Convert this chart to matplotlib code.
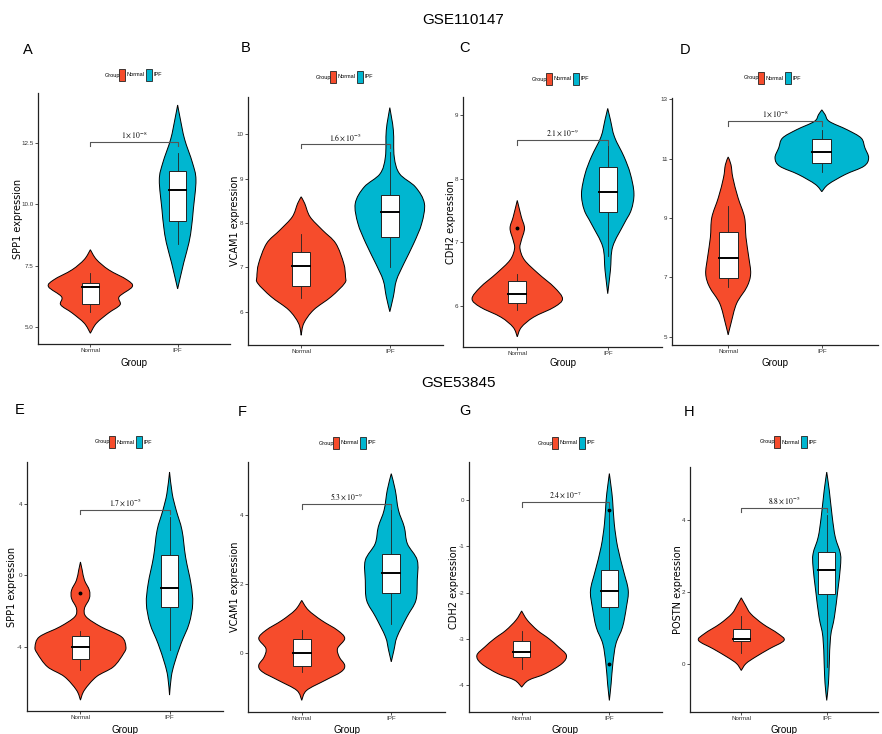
import numpy as np
import matplotlib
matplotlib.use('Agg')
import matplotlib.pyplot as plt
from matplotlib.path import Path
from matplotlib.patches import PathPatch, Rectangle

plt.rcParams['mathtext.fontset'] = 'stix'

W, H = 882, 734
NORMAL_COLOR = '#F64C2C'
IPF_COLOR = '#00B6D0'
NARROW = ['Liberation Sans Narrow', 'Liberation Sans', 'DejaVu Sans']
SANS = ['Liberation Sans', 'DejaVu Sans']

GROUPS = ['Normal', 'IPF']

# ---- GSE110147 ----
# A: SPP1
A_norm_y = [4.74, 5.15, 5.57, 5.9, 6.23, 6.64, 6.92, 7.33, 7.75, 8.15]
A_norm_w = [0, 0.07, 0.21, 0.34, 0.33, 0.48, 0.42, 0.21, 0.07, 0]
A_norm_box = [5.6, 5.94, 6.64, 6.8, 7.2]
A_ipf_y = [6.55, 7.62, 8.44, 9.1, 9.8, 11.0, 11.7, 12.66, 13.5, 14.06]
A_ipf_w = [0, 0.07, 0.13, 0.16, 0.18, 0.21, 0.17, 0.08, 0.03, 0]
A_ipf_box = [8.4, 9.34, 10.6, 11.38, 12.1]

# B: VCAM1
B_norm_y = [5.47, 5.74, 6.04, 6.34, 6.64, 6.79, 7.09, 7.54, 7.84, 8.14, 8.44, 8.59]
B_norm_w = [0, 0.03, 0.14, 0.34, 0.49, 0.50, 0.48, 0.39, 0.24, 0.10, 0.04, 0]
B_norm_box = [6.3, 6.58, 7.04, 7.34, 7.75]
B_ipf_y = [6.0, 6.34, 6.71, 7.09, 7.54, 7.99, 8.44, 8.81, 9.11, 9.49, 10.09, 10.6]
B_ipf_w = [0, 0.04, 0.075, 0.16, 0.27, 0.36, 0.39, 0.29, 0.11, 0.05, 0.04, 0]
B_ipf_box = [7.0, 7.69, 8.24, 8.62, 9.6]

# C: CDH2
C_norm_y = [5.51, 5.66, 5.82, 5.98, 6.11, 6.29, 6.51, 6.72, 6.9, 7.03, 7.22, 7.4, 7.66]
C_norm_w = [0, 0.045, 0.18, 0.41, 0.50, 0.41, 0.23, 0.08, 0.03, 0.045, 0.08, 0.045, 0]
C_norm_box = [5.94, 6.04, 6.18, 6.39, 6.5]
C_norm_out = [7.23]
C_ipf_y = [6.19, 6.56, 6.93, 7.29, 7.51, 7.77, 8.08, 8.35, 8.66, 8.93, 9.11]
C_ipf_w = [0, 0.03, 0.055, 0.18, 0.26, 0.29, 0.25, 0.18, 0.075, 0.03, 0]
C_ipf_box = [6.79, 7.47, 7.8, 8.18, 8.61]

# D: POSTN
D_norm_y = [5.06, 5.45, 6.12, 6.68, 7.12, 7.68, 8.35, 9.02, 9.69, 10.36, 10.8, 11.06]
D_norm_w = [0, 0.03, 0.09, 0.2, 0.24, 0.22, 0.19, 0.175, 0.105, 0.05, 0.03, 0]
D_norm_box = [6.68, 6.97, 7.66, 8.53, 9.41]
D_ipf_y = [9.89, 10.14, 10.47, 10.75, 11.03, 11.37, 11.7, 11.98, 12.26, 12.49, 12.65]
D_ipf_w = [0, 0.07, 0.25, 0.45, 0.5, 0.46, 0.42, 0.27, 0.08, 0.035, 0]
D_ipf_box = [10.56, 10.85, 11.23, 11.68, 11.98]

# ---- GSE53845 ----
# E: SPP1
E_norm_y = [-6.98, -6.42, -5.67, -5.12, -4.37, -4.0, -3.44, -2.88, -2.33, -1.86,
            -1.3, -0.84, -0.28, 0.28, 0.74]
E_norm_w = [0, 0.045, 0.18, 0.37, 0.485, 0.51, 0.46, 0.23, 0.065, 0.045,
            0.10, 0.10, 0.045, 0.02, 0]
E_norm_box = [-5.27, -4.67, -4.0, -3.39, -3.1]
E_norm_out = [-0.97]
E_ipf_y = [-6.7, -5.67, -4.93, -3.81, -2.7, -1.58, -0.47, 1.02, 2.51, 3.63, 4.56, 5.77]
E_ipf_w = [0, 0.02, 0.055, 0.13, 0.22, 0.26, 0.24, 0.18, 0.14, 0.075, 0.03, 0]
E_ipf_box = [-4.19, -1.8, -0.69, 1.15, 3.26]

# F: VCAM1
F_norm_y = [-1.39, -1.1, -0.81, -0.56, -0.37, -0.13, 0.12, 0.41, 0.65, 0.94, 1.24, 1.52]
F_norm_w = [0, 0.055, 0.26, 0.44, 0.48, 0.42, 0.40, 0.48, 0.40, 0.22, 0.073, 0]
F_norm_box = [-0.56, -0.38, 0.0, 0.41, 0.67]
F_ipf_y = [-0.27, 0.07, 0.46, 1.04, 1.52, 2.1, 2.69, 3.17, 3.66, 4.15, 4.73, 5.21]
F_ipf_w = [0, 0.03, 0.065, 0.175, 0.275, 0.29, 0.29, 0.18, 0.145, 0.08, 0.045, 0]
F_ipf_box = [0.84, 1.74, 2.33, 2.86, 4.34]

# G: CDH2
G_norm_y = [-4.05, -3.9, -3.76, -3.54, -3.36, -3.18, -3.0, -2.82, -2.6, -2.4]
G_norm_w = [0, 0.08, 0.27, 0.46, 0.51, 0.42, 0.31, 0.18, 0.065, 0]
G_norm_box = [-3.65, -3.4, -3.3, -3.05, -2.83]
G_ipf_y = [-4.34, -3.98, -3.54, -3.11, -2.75, -2.31, -1.95, -1.52, -1.01, -0.51,
           0.0, 0.29, 0.58]
G_ipf_w = [0, 0.02, 0.04, 0.075, 0.15, 0.195, 0.215, 0.16, 0.094, 0.056,
           0.037, 0.02, 0]
G_ipf_box = [-2.78, -2.31, -1.97, -1.52, -0.25]
G_ipf_out = [-0.2, -3.56]

# H: POSTN
H_norm_y = [-0.17, 0.02, 0.2, 0.43, 0.66, 0.85, 1.12, 1.4, 1.63, 1.84]
H_norm_w = [0, 0.055, 0.165, 0.33, 0.5, 0.43, 0.25, 0.11, 0.05, 0]
H_norm_box = [0.31, 0.645, 0.71, 0.98, 1.33]
H_ipf_y = [-1.0, -0.53, 0.02, 0.76, 1.31, 2.05, 2.69, 3.06, 3.52, 4.07, 4.81, 5.32]
H_ipf_w = [0, 0.02, 0.03, 0.045, 0.09, 0.13, 0.16, 0.16, 0.1, 0.065, 0.03, 0]
H_ipf_box = [-0.07, 1.94, 2.6, 3.12, 4.12]

P_LABELS = {
    'A': r'$1\times10^{-8}$', 'B': r'$1.6\times10^{-5}$', 'C': r'$2.1\times10^{-9}$',
    'D': r'$1\times10^{-8}$', 'E': r'$1.7\times10^{-5}$', 'F': r'$5.3\times10^{-9}$',
    'G': r'$2.4\times10^{-7}$', 'H': r'$8.8\times10^{-5}$',
}
Y_LABELS = {
    'A': 'SPP1 expression', 'B': 'VCAM1 expression', 'C': 'CDH2 expression', 'D': '',
    'E': 'SPP1 expression', 'F': 'VCAM1 expression', 'G': 'CDH2 expression',
    'H': 'POSTN expression',
}
Y_TICKS = {
    'A': ([5.0, 7.5, 10.0, 12.5], ['5.0', '7.5', '10.0', '12.5']),
    'B': ([6, 7, 8, 9, 10], ['6', '7', '8', '9', '10']),
    'C': ([6, 7, 8, 9], ['6', '7', '8', '9']),
    'D': ([5, 7, 9, 11, 13], ['5', '7', '9', '11', '13']),
    'E': ([-4, 0, 4], ['-4', '0', '4']),
    'F': ([0, 2, 4], ['0', '2', '4']),
    'G': ([-4, -3, -2, -1, 0], ['-4', '-3', '-2', '-1', '0']),
    'H': ([0, 2, 4], ['0', '2', '4']),
}
Y_LIMS = {
    'A': (4.30, 14.55), 'B': (5.25, 10.84), 'C': (5.35, 9.29), 'D': (4.72, 13.05),
    'E': (-7.59, 6.33), 'F': (-1.73, 5.55), 'G': (-4.59, 0.83), 'H': (-1.32, 5.46),
}
BRACKETS = {  # height of the comparison bar, drop of its end ticks
    'A': (12.55, 0.15), 'B': (9.77, 0.07), 'C': (8.61, 0.08), 'D': (12.28, 0.16),
    'E': (3.67, 0.27), 'F': (4.34, 0.15), 'G': (-0.04, 0.1), 'H': (4.33, 0.12),
}

# panel frames in pixels: left, right, top, bottom
FRAMES = {
    'A': (38, 230, 93, 344), 'B': (248, 443, 97, 345),
    'C': (463, 662, 97, 347), 'D': (672, 878, 98, 345),
    'E': (27, 223, 462, 711), 'F': (248, 445, 462, 712),
    'G': (469, 662, 462, 712), 'H': (690, 878, 467, 712),
}
LETTER_POS = {'A': (28, 50), 'B': (246, 48), 'C': (465, 48), 'D': (685, 50),
              'E': (20, 410), 'F': (242, 412), 'G': (465, 411), 'H': (689, 412)}
LEGEND_POS = {'A': (105, 75), 'B': (316, 77), 'C': (532, 79), 'D': (744, 78),
              'E': (95, 442), 'F': (319, 443), 'G': (538, 443), 'H': (760, 442)}
YLABEL_X = {'A': 18, 'B': 235, 'C': 451, 'D': 0, 'E': 12, 'F': 235, 'G': 454, 'H': 678}
SHOW_XLABEL = {'A': True, 'B': False, 'C': True, 'D': True,
               'E': True, 'F': True, 'G': True, 'H': True}


def fxy(x, y):
    return x / W, 1 - y / H


def violin_path(center, ys, ws):
    pts = np.column_stack([center + np.asarray(ws, float), np.asarray(ys, float)])
    n = len(pts)
    verts = [pts[0]]
    for i in range(n - 1):
        p0 = pts[max(i - 1, 0)]
        p1 = pts[i]
        p2 = pts[i + 1]
        p3 = pts[min(i + 2, n - 1)]
        verts += [p1 + (p2 - p0) / 6, p2 - (p3 - p1) / 6, p2]
    right = np.array(verts)
    left = right[::-1].copy()
    left[:, 0] = 2 * center - left[:, 0]
    allv = np.vstack([right, left[1:], right[:1]])
    codes = ([Path.MOVETO] + [Path.CURVE4] * (len(right) - 1)
             + [Path.CURVE4] * (len(left) - 1) + [Path.CLOSEPOLY])
    return Path(allv, codes)


def draw_group(ax, x, ys, ws, box, color, outliers=()):
    ax.add_patch(PathPatch(violin_path(x, ys, ws), facecolor=color,
                           edgecolor='black', lw=0.7, zorder=1))
    lo, q1, med, q3, hi = box
    ax.plot([x, x], [lo, hi], color='#222222', lw=0.6, zorder=2)
    ax.add_patch(Rectangle((x - 0.1, q1), 0.2, q3 - q1, facecolor='white',
                           edgecolor='#222222', lw=0.7, zorder=3))
    ax.plot([x - 0.1, x + 0.1], [med, med], color='black', lw=1.4, zorder=4)
    for o in outliers:
        ax.plot(x, o, 'o', color='black', ms=1.8, zorder=5)


def draw_legend(key):
    x0, yc = LEGEND_POS[key]
    fig.text(*fxy(x0, yc), 'Group', fontsize=4, family=NARROW, va='center')
    for dx, color, label in [(14, NORMAL_COLOR, 'Normal'), (41, IPF_COLOR, 'IPF')]:
        lx, ly = fxy(x0 + dx, yc + 6)
        fig.patches.append(Rectangle((lx, ly), 6 / W, 12 / H, facecolor=color,
                                     edgecolor='#222222', lw=0.6,
                                     transform=fig.transFigure, figure=fig))
        fig.text(*fxy(x0 + dx + 7.5, yc), label, fontsize=4, family=NARROW, va='center')


def draw_panel(key, norm, ipf):
    l, r, t, b = FRAMES[key]
    ax = fig.add_axes([l / W, 1 - b / H, (r - l) / W, (b - t) / H])
    draw_group(ax, 1, *norm[:3], NORMAL_COLOR, *norm[3:])
    draw_group(ax, 2, *ipf[:3], IPF_COLOR, *ipf[3:])

    yb, drop = BRACKETS[key]
    ax.plot([1, 1, 2, 2], [yb - drop, yb, yb, yb - drop], color='#555555', lw=0.8, zorder=6)
    ax.annotate(P_LABELS[key], (1.5, yb), xytext=(0, 1.2), textcoords='offset points',
                ha='center', va='bottom', fontsize=5.5)

    ax.set_xlim(0.4, 2.6)
    ax.set_ylim(*Y_LIMS[key])
    ax.set_xticks([1, 2])
    ax.set_xticklabels(GROUPS, family=NARROW)
    ticks, labels = Y_TICKS[key]
    ax.set_yticks(ticks)
    ax.set_yticklabels(labels, family=NARROW)
    ax.tick_params(length=2, width=0.6, labelsize=4.5, pad=1.2, colors='#333333')
    for side in ['top', 'right']:
        ax.spines[side].set_visible(False)
    for side in ['left', 'bottom']:
        ax.spines[side].set_color('#222222')
        ax.spines[side].set_linewidth(0.9)

    if Y_LABELS[key]:
        fig.text(*fxy(YLABEL_X[key], (t + b) / 2), Y_LABELS[key], rotation=90,
                 fontsize=7, family=['DejaVu Sans'], ha='center', va='center')
    if SHOW_XLABEL[key]:
        gy = 363 if t < 200 else 730
        fig.text(*fxy((l + r) / 2, gy), 'Group', fontsize=7, family=NARROW,
                 ha='center', va='center')
    fig.text(*fxy(*LETTER_POS[key]), key, fontsize=10.5, family=SANS,
             ha='center', va='center')
    draw_legend(key)


fig = plt.figure(figsize=(W / 100, H / 100), dpi=100)

fig.text(*fxy(463, 20), 'GSE110147', fontsize=11, family=SANS, ha='center', va='center')
fig.text(*fxy(459, 383), 'GSE53845', fontsize=11, family=SANS, ha='center', va='center')

draw_panel('A', (A_norm_y, A_norm_w, A_norm_box), (A_ipf_y, A_ipf_w, A_ipf_box))
draw_panel('B', (B_norm_y, B_norm_w, B_norm_box), (B_ipf_y, B_ipf_w, B_ipf_box))
draw_panel('C', (C_norm_y, C_norm_w, C_norm_box, C_norm_out), (C_ipf_y, C_ipf_w, C_ipf_box))
draw_panel('D', (D_norm_y, D_norm_w, D_norm_box), (D_ipf_y, D_ipf_w, D_ipf_box))
draw_panel('E', (E_norm_y, E_norm_w, E_norm_box, E_norm_out), (E_ipf_y, E_ipf_w, E_ipf_box))
draw_panel('F', (F_norm_y, F_norm_w, F_norm_box), (F_ipf_y, F_ipf_w, F_ipf_box))
draw_panel('G', (G_norm_y, G_norm_w, G_norm_box), (G_ipf_y, G_ipf_w, G_ipf_box, G_ipf_out))
draw_panel('H', (H_norm_y, H_norm_w, H_norm_box), (H_ipf_y, H_ipf_w, H_ipf_box))

fig.savefig('out.png', dpi=100, facecolor='white')
